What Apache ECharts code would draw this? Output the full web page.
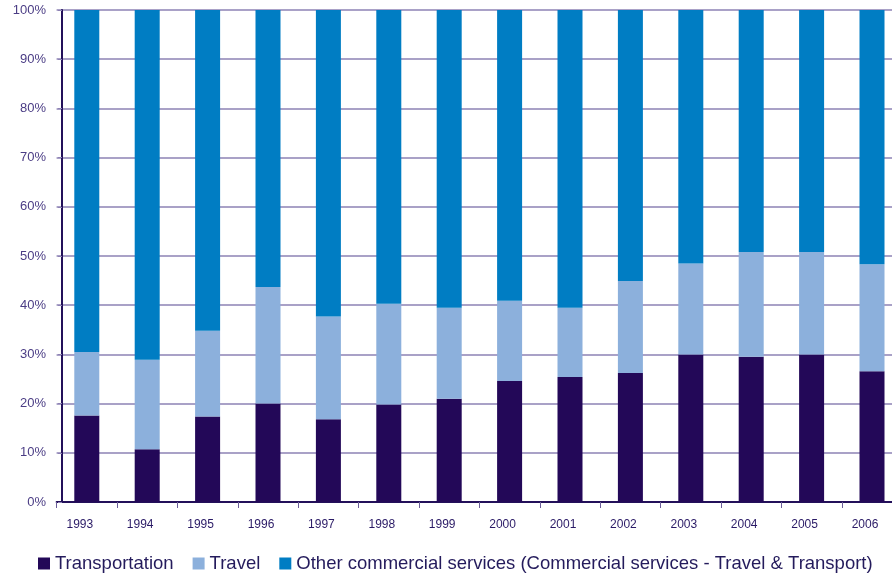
<!DOCTYPE html>
<html><head><meta charset="utf-8">
<script src="https://cdn.jsdelivr.net/npm/echarts@6/dist/echarts.min.js"></script>
<style>html,body{margin:0;padding:0;background:#fff}#c{width:892px;height:575px}</style>
</head><body><div id="c"></div>
<script>
var years = ['1993','1994','1995','1996','1997','1998','1999','2000','2001','2002','2003','2004','2005','2006'];
var transportation = [17.6,10.7,17.4,20.0,16.8,19.8,21.0,24.6,25.4,26.2,30.0,29.5,30.0,26.6];
var travel = [12.9,18.2,17.4,23.7,20.9,20.5,18.5,16.3,14.1,18.7,18.5,21.3,20.8,21.7];
var other = [69.5,71.1,65.2,56.3,62.3,59.7,60.5,59.1,60.5,55.1,51.5,49.2,49.2,51.7];
var seriesNames = ['Transportation','Travel','Other commercial services (Commercial services - Travel & Transport)'];
var colors = ['#230858','#8cb0dc','#007dc3'];
var font = "'Liberation Sans Narrow','Liberation Sans',Arial,sans-serif";

var chart = echarts.init(document.getElementById('c'));
chart.setOption({
  animation:false,
  color: colors,
  grid:{left:56.6, top:10, width:845.6, height:492, containLabel:false, outerBoundsMode:'none'},
  xAxis:{type:'category', data:years,
    axisLine:{lineStyle:{color:'#23105a', width:2}},
    axisTick:{show:true, length:6, lineStyle:{color:'#6a5d98'}},
    axisLabel:{color:'#2a1a66', fontFamily:font, fontSize:12, margin:17, padding:[0,14,0,0]}
  },
  yAxis:{type:'value', min:0, max:100, interval:10, offset:-5.4,
    axisLine:{show:true, lineStyle:{color:'#23105a', width:2}},
    axisTick:{show:true, length:4, lineStyle:{color:'#8d82b4'}},
    axisLabel:{formatter:'{value}%', color:'#4b3d85', fontFamily:font, fontSize:13, margin:16},
    splitLine:{show:true, lineStyle:{color:'#8d82b4', width:1.5}}
  },
  legend:{top:554, left:38, width:1400, padding:0, itemWidth:12, itemHeight:12, itemGap:19, icon:'rect',
    textStyle:{color:'#241b5c', fontFamily:font, fontSize:18.5},
    data:seriesNames},
  series:[
    {name:seriesNames[0], type:'bar', stack:'a', barWidth:25, data:transportation},
    {name:seriesNames[1], type:'bar', stack:'a', barWidth:25, data:travel},
    {name:seriesNames[2], type:'bar', stack:'a', barWidth:25, data:other}
  ]
});
</script></body></html>
